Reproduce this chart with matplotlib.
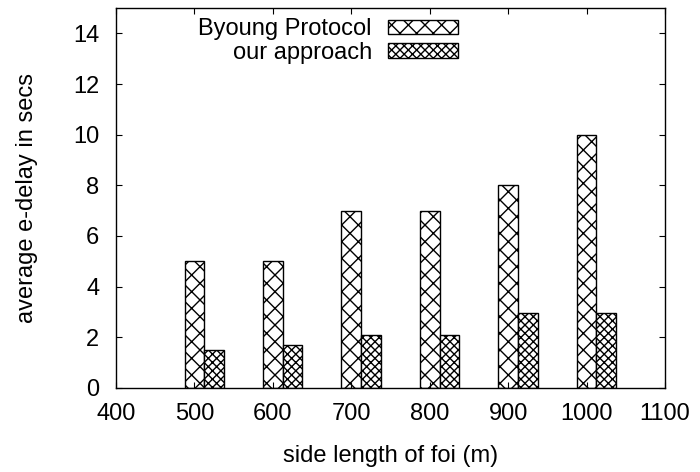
import matplotlib
matplotlib.use("Agg")
import matplotlib.pyplot as plt

plt.rcParams['font.family'] = ['Liberation Sans', 'DejaVu Sans']
plt.rcParams['hatch.linewidth'] = 1.0

side_lengths = [500, 600, 700, 800, 900, 1000]
byoung_delay = [5, 5, 7, 7, 8, 10]
our_delay = [1.5, 1.7, 2.1, 2.1, 2.95, 2.95]
x_ticks = [400, 500, 600, 700, 800, 900, 1000, 1100]
y_ticks = [0, 2, 4, 6, 8, 10, 12, 14]

FS = 17

fig = plt.figure(figsize=(7.0, 4.72), dpi=100)
ax = fig.add_axes([0.1657, 0.178, 0.7843, 0.805])

width = 25
ax.bar([s - width / 2 for s in side_lengths], byoung_delay, width=width,
       align='edge', facecolor='white', edgecolor='black', linewidth=1.0,
       hatch='xx', label='Byoung Protocol')
ax.bar([s + width / 2 for s in side_lengths], our_delay, width=width,
       align='edge', facecolor='white', edgecolor='black', linewidth=1.0,
       hatch='xxxx', label='our approach')

ax.set_xlim(400, 1100)
ax.set_ylim(0, 15)
ax.set_xticks(x_ticks)
ax.set_yticks(y_ticks)
ax.tick_params(direction='in', length=4.5, width=0.8, top=True, right=True,
               labelsize=FS)
ax.tick_params(axis='y', pad=12)
ax.tick_params(axis='x', pad=10.5)
for s in ax.spines.values():
    s.set_linewidth(1.0)

ax.set_xlabel('side length of foi (m)', fontsize=FS)
ax.set_ylabel('average e-delay in secs', fontsize=FS)
ax.xaxis.set_label_coords(0.5, -0.15)
ax.yaxis.set_label_coords(-0.142, 0.5)

ax.legend(loc='upper right', bbox_to_anchor=(458 / 700, 1 - 18 / 472),
          bbox_transform=fig.transFigure, frameon=False, markerfirst=False,
          fontsize=FS, handlelength=2.97, handleheight=0.55,
          handletextpad=0.68, labelspacing=0.08, borderpad=0,
          borderaxespad=0)

fig.savefig('out.png', dpi=100)
